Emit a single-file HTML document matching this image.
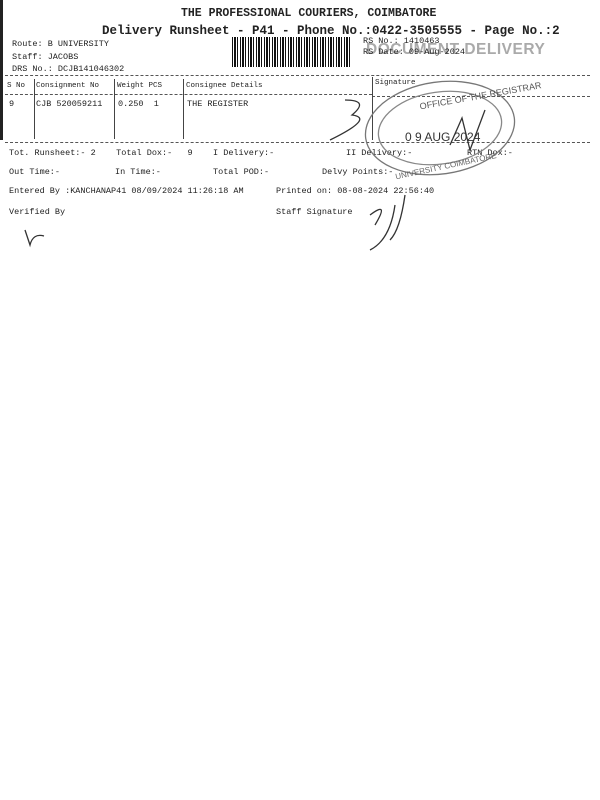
<!DOCTYPE html>
<html><head><style>
body{margin:0;width:600px;height:800px;background:#fff;position:relative;overflow:hidden;font-family:"Liberation Mono",monospace;color:#222}
.t{position:absolute;white-space:nowrap;font-size:8.5px}
.b{font-weight:bold}
.d{position:absolute;border-top:1px dashed #555;height:0}
.v{position:absolute;border-left:1px solid #444;width:0}
</style></head><body>
<div style="position:absolute;left:0;top:0;width:3px;height:140px;background:#222"></div>
<div class="t b" style="left:181px;top:7px;font-size:11.5px">THE PROFESSIONAL COURIERS, COIMBATORE</div>
<div class="t b" style="left:102px;top:24px;font-size:12.5px">Delivery Runsheet - P41 - Phone No.:0422-3505555 - Page No.:2</div>
<div class="t" style="left:12px;top:39px">Route: B UNIVERSITY</div>
<div class="t" style="left:12px;top:52px">Staff: JACOBS</div>
<div class="t" style="left:12px;top:64px">DRS No.: DCJB141046302</div>
<div style="position:absolute;left:232px;top:37px;width:118px;height:30px;background:repeating-linear-gradient(90deg,#111 0 1px,#fff 1px 2px,#111 2px 4px,#fff 4px 5px,#111 5px 6px,#fff 6px 8px)"></div>
<div class="t b" style="left:366px;top:41px;font-size:15.5px;color:#aaa;font-family:'Liberation Sans',sans-serif;letter-spacing:0.5px">DOCUMENT DELIVERY</div>
<div class="t" style="left:363px;top:36px">RS No.: 1410463</div>
<div class="t" style="left:363px;top:47px">RS Date: 09-Aug-2024</div>
<div class="d" style="left:5px;top:75px;width:585px"></div>
<div class="t" style="left:7px;top:82px;font-size:7.5px">S No</div>
<div class="t" style="left:36px;top:82px;font-size:7.5px">Consignment No</div>
<div class="t" style="left:117px;top:82px;font-size:7.5px">Weight PCS</div>
<div class="t" style="left:186px;top:82px;font-size:7.5px">Consignee Details</div>
<div class="t" style="left:375px;top:79px;font-size:7.5px">Signature</div>
<div class="d" style="left:5px;top:94px;width:367px"></div>
<div class="d" style="left:372px;top:96px;width:218px"></div>
<div class="v" style="left:34px;top:79px;height:60px"></div>
<div class="v" style="left:114px;top:79px;height:60px"></div>
<div class="v" style="left:183px;top:79px;height:60px"></div>
<div class="v" style="left:372px;top:77px;height:63px"></div>
<div class="t" style="left:9px;top:99px">9</div>
<div class="t" style="left:36px;top:99px">CJB 520059211</div>
<div class="t" style="left:118px;top:99px">0.250&nbsp;&nbsp;1</div>
<div class="t" style="left:187px;top:99px">THE REGISTER</div>
<div class="d" style="left:5px;top:142px;width:585px"></div>
<div class="t" style="left:9px;top:148px">Tot. Runsheet:- 2&nbsp;&nbsp;&nbsp;&nbsp;Total Dox:-&nbsp;&nbsp;&nbsp;9&nbsp;&nbsp;&nbsp;&nbsp;I Delivery:-</div>
<div class="t" style="left:346px;top:148px">II Delivery:-</div>
<div class="t" style="left:467px;top:148px">RTN Dox:-</div>
<div class="t" style="left:9px;top:167px">Out Time:-</div>
<div class="t" style="left:115px;top:167px">In Time:-</div>
<div class="t" style="left:213px;top:167px">Total POD:-</div>
<div class="t" style="left:322px;top:167px">Delvy Points:-</div>
<div class="t" style="left:9px;top:186px">Entered By :KANCHANAP41 08/09/2024 11:26:18 AM</div>
<div class="t" style="left:276px;top:186px">Printed on: 08-08-2024 22:56:40</div>
<div class="t" style="left:9px;top:207px">Verified By</div>
<div class="t" style="left:276px;top:207px">Staff Signature</div>
<svg width="600" height="800" style="position:absolute;left:0;top:0">
<g fill="none" stroke="#333" stroke-width="1.3">
<ellipse cx="440" cy="128" rx="75" ry="46" transform="rotate(-8 440 128)" stroke="#777"/>
<ellipse cx="440" cy="128" rx="62" ry="36" transform="rotate(-8 440 128)" stroke="#888"/>
<path d="M345 100 Q370 100 352 115 Q375 118 330 140"/>
<path d="M450 145 L462 118 L470 150 L485 110"/>
<path d="M370 215 Q390 200 375 225 M395 205 Q390 240 370 250 M405 195 Q400 230 390 240"/>
<path d="M25 230 L30 245 Q33 233 44 236"/>
</g>
<text x="405" y="141" font-family="Liberation Sans,sans-serif" font-size="12" fill="#333">0 9 AUG 2024</text>
<text x="420" y="106" font-family="Liberation Sans,sans-serif" font-size="9" fill="#555" transform="rotate(-10 440 106)">OFFICE OF THE REGISTRAR</text>
<text x="395" y="170" font-family="Liberation Sans,sans-serif" font-size="8" fill="#666" transform="rotate(-12 440 170)">UNIVERSITY COIMBATORE</text>
</svg>
</body></html>
